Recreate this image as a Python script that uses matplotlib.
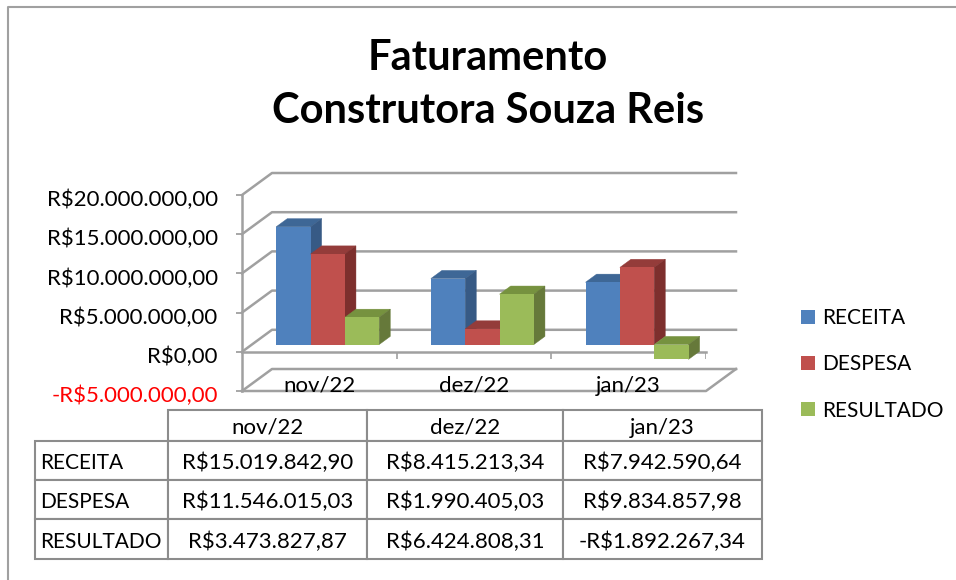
import matplotlib
matplotlib.use("Agg")
import matplotlib.pyplot as plt
from matplotlib.patches import Polygon, Patch
from matplotlib.transforms import ScaledTranslation

plt.rcParams["font.family"] = ["Lato", "DejaVu Sans"]

W, H = 956, 580

categories = ["nov/22", "dez/22", "jan/23"]
series = ["RECEITA", "DESPESA", "RESULTADO"]
receita = [15019842.90, 8415213.34, 7942590.64]
despesa = [11546015.03, 1990405.03, 9834857.98]
resultado = [3473827.87, 6424808.31, -1892267.34]
values = [receita, despesa, resultado]
yticks = [-5000000, 0, 5000000, 10000000, 15000000, 20000000]
ytick_labels = ["-R$5.000.000,00", "R$0,00", "R$5.000.000,00", "R$10.000.000,00",
                "R$15.000.000,00", "R$20.000.000,00"]
table_text = [
    ["R$15.019.842,90", "R$8.415.213,34", "R$7.942.590,64"],
    ["R$11.546.015,03", "R$1.990.405,03", "R$9.834.857,98"],
    ["R$3.473.827,87", "R$6.424.808,31", "-R$1.892.267,34"],
]

front = ["#4F81BD", "#C0504D", "#9BBB59"]
top = ["#3E6796", "#943C3A", "#76923F"]
side = ["#375A85", "#7D2F2D", "#66793A"]
GRID = "#A0A0A0"

fig = plt.figure(figsize=(W / 100, H / 100), dpi=100)

# full figure layer in pixels, for the frame only
bg = fig.add_axes([0, 0, 1, 1])
bg.set_xlim(0, W)
bg.set_ylim(H, 0)
bg.axis("off")
bg.plot([8, 8, W], [H, 7, 7], color="#A0A0A0", lw=1.5)

# front plane of the 3d box
left, right, y_low, y_high = 242, 706, 391, 195
ax = fig.add_axes([left / W, 1 - y_low / H, (right - left) / W, (y_low - y_high) / H])
ax.set_xlim(-0.5, 2.5)
ax.set_ylim(-5000000, 20000000)
ax.patch.set_alpha(0)
for s in ax.spines.values():
    s.set_visible(False)

# depth: full box depth is 30px right, 22px up
DX = 30 * 3 / (right - left)
DY = 22 * 25000000 / (y_low - y_high)


def project(x, y, d):
    return (x + d * DX, y + d * DY)


def poly(points, color, zorder):
    ax.add_patch(Polygon(points, closed=True, facecolor=color, edgecolor=color, lw=0.3,
                         zorder=zorder, clip_on=False))


x0, x1 = ax.get_xlim()
for t in yticks:
    # back wall + side wall
    a = project(x0, t, 0)
    b = project(x0, t, 1)
    c = project(x1, t, 1)
    ax.plot([a[0], b[0], c[0]], [a[1], b[1], c[1]], color=GRID, lw=1.8, clip_on=False, zorder=1)

# floor
low = yticks[0]
a = project(x1, low, 0)
b = project(x1, low, 1)
ax.plot([x0, a[0], b[0]], [low, a[1], b[1]], color=GRID, lw=1.8, clip_on=False, zorder=1)
ax.plot([x0, x0], [low, yticks[-1]], color=GRID, lw=1.8, clip_on=False, zorder=1)

# zero line with ticks
ax.plot([x0, x1], [0, 0], color=GRID, lw=1.8, clip_on=False, zorder=1.5)
ax.vlines([x0, 0.5, 1.5, x1], -900000, 0, color=GRID, lw=1.2, zorder=1.5)

# bars
D0, D1 = 0.33, 0.70
bw = 0.222
SHIFT = -0.01
for i, vals in enumerate(values):
    z = 2 + i
    for j, v in enumerate(vals):
        xl = j + SHIFT + (i - 1.5) * bw
        xr = xl + bw
        hi = max(v, 0)
        lo = min(v, 0)
        poly([project(xl, hi, D0), project(xr, hi, D0), project(xr, hi, D1), project(xl, hi, D1)], top[i], z)
        poly([project(xr, lo, D0), project(xr, hi, D0), project(xr, hi, D1), project(xr, lo, D1)], side[i], z)
    xs = [j + SHIFT + (i - 1) * bw + D0 * DX for j in range(len(vals))]
    ax.bar(xs, vals, bw, bottom=D0 * DY, color=front[i], zorder=z + 0.5)

ax.set_xticks([])
ax.set_yticks(yticks, ytick_labels, fontsize=16)
ax.tick_params(axis="y", length=4.5, width=1.3, color=GRID, pad=13)
down = ScaledTranslation(0, -3 / 100, fig.dpi_scale_trans)
for tick, t in zip(ax.yaxis.get_major_ticks(), yticks):
    tick.label1.set_color("red" if t < 0 else "black")
    tick.label1.set_transform(tick.label1.get_transform() + down)

for j, c in enumerate(categories):
    ax.text(j, -4300000, c, ha="center", va="center", fontsize=16, zorder=6)

# title
fig.text(488 / W, 1 - 58 / H, "Faturamento", ha="center", va="center", fontsize=30, fontweight="bold")
fig.text(488 / W, 1 - 111 / H, "Construtora Souza Reis", ha="center", va="center", fontsize=30,
         fontweight="bold")

# data table, first row and column hold the labels
cells = [[""] + categories] + [[series[r]] + table_text[r] for r in range(3)]
tb = bg.table(cellText=cells, cellLoc="center",
              bbox=[35 / W, 1 - 559 / H, (762 - 35) / W, (559 - 410) / H])
tb.auto_set_font_size(False)
col_w = [133, 199, 196, 199]
row_h = [31, 39, 39, 40]
# cell text is placed in display units, so it only needs a small offset
cell_down = ScaledTranslation(0, -2.5 / 100, fig.dpi_scale_trans)
for (r, c), cell in tb.get_celld().items():
    cell.set_width(col_w[c] / W)
    cell.set_height(row_h[r] / H)
    cell.set_edgecolor("#8C8C8C")
    cell.set_linewidth(1.5)
    cell.set_text_props(fontsize=16)
    cell.PAD = 0.04
    if c == 0:
        cell.set_text_props(ha="left", fontsize=15)
    cell.get_text().set_transform(cell_down)
tb[0, 0].visible_edges = ""

# legend
handles = [Patch(facecolor=front[i], label=series[i]) for i in range(3)]
fig.legend(handles=handles, loc="center left", bbox_to_anchor=(801 / W, 1 - 364.5 / H), frameon=False,
           fontsize=15, handlelength=0.67, handleheight=0.67, handletextpad=0.35, labelspacing=1.25,
           borderpad=0, borderaxespad=0)

fig.savefig("out.png", dpi=100)
